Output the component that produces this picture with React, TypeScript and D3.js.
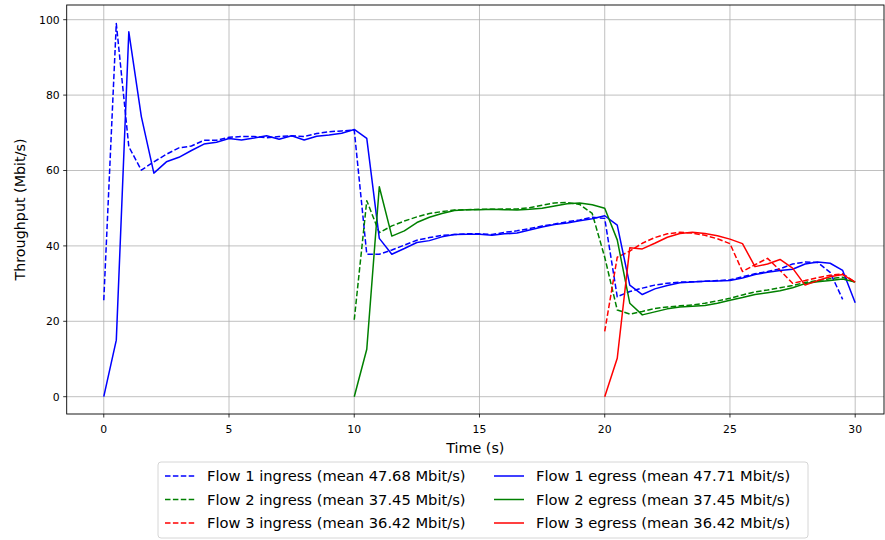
import { useEffect } from 'react';
import * as d3 from 'd3';

// sample step of the throughput log (s)
const step = 0.5;

// Flow 1 starts at 0 s, flow 2 at 10 s, flow 3 at 20 s
const flow1Start = 0;
const flow2Start = 10;
const flow3Start = 20;

const flow1Ingress = [
    25.6, 99, 66.3, 60.1, 62.3, 64.3, 66, 66.5, 68, 68, 68.8, 69, 69, 68.7, 69, 69.2, 69, 69.8, 70.3, 70.5,
    70.7, 37.8, 37.8, 38.9, 40.2, 41.5, 42.2, 42.8, 43, 43.2, 43.2, 43, 43.6, 44, 44.6, 45.3, 45.8, 46.4, 46.9, 47.6,
    47.3, 26.5, 27.9, 28.8, 29.6, 30.1, 30.4, 30.5, 30.6, 30.8, 31, 31.8, 32.6, 33.2, 33.9, 35.2, 35.7, 35.6, 33, 25.8,
];
const flow1Egress = [
    0, 15, 96.8, 74.3, 59.3, 62.3, 63.5, 65.3, 67, 67.5, 68.5, 68.1, 68.6, 69.2, 68.3, 69.2, 68.1, 69.1, 69.4, 69.9,
    70.9, 68.5, 42, 37.8, 39.3, 40.9, 41.4, 42.4, 43, 43.1, 43.1, 42.8, 43.2, 43.4, 44.2, 45, 45.7, 46.1, 46.7, 47.2,
    48, 45.5, 29.6, 27.1, 28.6, 29.5, 30.2, 30.4, 30.6, 30.7, 30.8, 31.5, 32.4, 33, 33.5, 33.8, 35.2, 35.7, 35.4, 33.5,
    24.9,
];
const flow2Ingress = [
    20.4, 52, 43.5, 45.3, 46.6, 47.7, 48.6, 49.1, 49.5, 49.6, 49.7, 49.7, 49.8, 49.8, 50.1, 50.8, 51.4, 51.5, 51, 48.6,
    37, 23, 21.9, 22.6, 23.4, 23.8, 24.1, 24.3, 24.8, 25.4, 26.1, 27, 27.8, 28.3, 28.9, 29.5, 30.3, 30.8, 31.3, 31.7,
    30.4,
];
const flow2Egress = [
    0, 12.6, 55.7, 42.6, 44, 46.2, 47.6, 48.6, 49.4, 49.6, 49.6, 49.7, 49.6, 49.5, 49.7, 50, 50.6, 51.2, 51.4, 50.9,
    50, 41.6, 24.8, 21.7, 22.5, 23.3, 23.8, 24, 24.2, 24.8, 25.6, 26.3, 27.1, 27.6, 28.1, 28.9, 30, 30.5, 30.8, 31.2,
    30.4,
];
const flow3Ingress = [
    17.3, 37, 38.6, 40.7, 42.2, 43.2, 43.6, 43.4, 42.8, 41.9, 40.6, 33.2, 35, 36.7, 33.5, 30.1, 30.8, 31.6, 32.2, 32.6,
    30.4,
];
const flow3Egress = [
    0, 10.2, 39.5, 39.2, 40.7, 42.3, 43.3, 43.6, 43.3, 42.7, 41.8, 40.6, 34.5, 35.2, 36.4, 34.1, 29.6, 30.8, 31.8, 32.4,
    30.4,
];

const xTicks = [0, 5, 10, 15, 20, 25, 30];
const yTicks = [0, 20, 40, 60, 80, 100];

interface Series {
    label: string;
    color: string;
    dashed: boolean;
    start: number;
    values: number[];
}

const series: Series[] = [
    { label: 'Flow 1 ingress (mean 47.68 Mbit/s)', color: '#0000ff', dashed: true, start: flow1Start, values: flow1Ingress },
    { label: 'Flow 2 ingress (mean 37.45 Mbit/s)', color: '#008000', dashed: true, start: flow2Start, values: flow2Ingress },
    { label: 'Flow 3 ingress (mean 36.42 Mbit/s)', color: '#ff0000', dashed: true, start: flow3Start, values: flow3Ingress },
    { label: 'Flow 1 egress (mean 47.71 Mbit/s)', color: '#0000ff', dashed: false, start: flow1Start, values: flow1Egress },
    { label: 'Flow 2 egress (mean 37.45 Mbit/s)', color: '#008000', dashed: false, start: flow2Start, values: flow2Egress },
    { label: 'Flow 3 egress (mean 36.42 Mbit/s)', color: '#ff0000', dashed: false, start: flow3Start, values: flow3Egress },
];

const W = 885;
const H = 540;
const plot = { left: 66.7, right: 884, top: 5, bottom: 414 };
const font = "'DejaVu Sans', sans-serif";

export default function App() {
    useEffect(() => {
        document.body.style.margin = '0';
    }, []);

    const x = d3.scaleLinear().domain([-1.48, 31.15]).range([plot.left, plot.right]);
    const y = d3.scaleLinear().domain([-4.59, 103.9]).range([plot.bottom, plot.top]);

    const line = d3.line<[number, number]>()
        .x(d => x(d[0]))
        .y(d => y(d[1]));

    const pathFor = (s: Series) =>
        line(s.values.map((v, i) => [s.start + i * step, v] as [number, number])) ?? '';

    // legend layout
    const legend = { left: 158, top: 462, right: 808, bottom: 538 };
    const rowY = [476, 499.5, 523];
    const colX = [165, 494];

    return (
        <svg width={W} height={H} style={{ display: 'block', background: '#fff' }} fontFamily={font}>
            {/* grid */}
            <g stroke="#b0b0b0" strokeWidth={0.8}>
                {xTicks.map(t => (
                    <line key={'gx' + t} x1={x(t)} x2={x(t)} y1={plot.top} y2={plot.bottom} />
                ))}
                {yTicks.map(t => (
                    <line key={'gy' + t} x1={plot.left} x2={plot.right} y1={y(t)} y2={y(t)} />
                ))}
            </g>

            {/* series */}
            <g fill="none" strokeWidth={1.5} strokeLinejoin="round">
                {series.map(s => (
                    <path
                        key={s.label}
                        d={pathFor(s)}
                        stroke={s.color}
                        strokeDasharray={s.dashed ? '5.5,2.4' : undefined}
                    />
                ))}
            </g>

            {/* frame */}
            <rect x={plot.left} y={plot.top} width={plot.right - plot.left} height={plot.bottom - plot.top}
                  fill="none" stroke="#000" strokeWidth={0.9} />

            {/* x axis */}
            <g fontSize={10.8} textAnchor="middle" fill="#000">
                {xTicks.map(t => (
                    <g key={'xt' + t}>
                        <line x1={x(t)} x2={x(t)} y1={plot.bottom} y2={plot.bottom + 3.5} stroke="#000" strokeWidth={0.8} />
                        <text x={x(t)} y={plot.bottom + 19}>{t}</text>
                    </g>
                ))}
            </g>
            <text x={(plot.left + plot.right) / 2} y={453} fontSize={14.3} textAnchor="middle">Time (s)</text>

            {/* y axis */}
            <g fontSize={10.8} textAnchor="end" fill="#000">
                {yTicks.map(t => (
                    <g key={'yt' + t}>
                        <line x1={plot.left - 3.5} x2={plot.left} y1={y(t)} y2={y(t)} stroke="#000" strokeWidth={0.8} />
                        <text x={plot.left - 7} y={y(t)} dy="0.36em">{t}</text>
                    </g>
                ))}
            </g>
            <text transform={`translate(20,${(plot.top + plot.bottom) / 2}) rotate(-90)`} fontSize={14.3}
                  textAnchor="middle" dy="0.36em">
                Throughput (Mbit/s)
            </text>

            {/* legend */}
            <rect x={legend.left} y={legend.top} width={legend.right - legend.left} height={legend.bottom - legend.top}
                  rx={3} fill="#fff" fillOpacity={0.8} stroke="#cccccc" strokeWidth={0.8} />
            {series.map((s, i) => {
                const col = Math.floor(i / 3);
                const row = i % 3;
                const hx = colX[col];
                const ry = rowY[row];
                return (
                    <g key={'lg' + s.label}>
                        <line x1={hx} x2={hx + 30} y1={ry} y2={ry} stroke={s.color} strokeWidth={1.5}
                              strokeDasharray={s.dashed ? '5.5,2.4' : undefined} />
                        <text x={hx + 42} y={ry} dy="0.36em" fontSize={14.7}>{s.label}</text>
                    </g>
                );
            })}
        </svg>
    );
}
